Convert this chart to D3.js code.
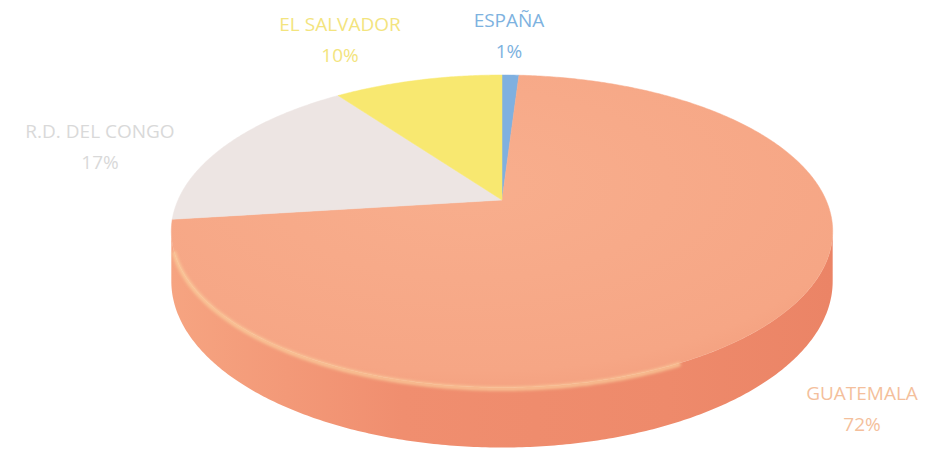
<!DOCTYPE html>
<html>
<head>
<meta charset="utf-8">
<script src="https://cdn.jsdelivr.net/npm/d3@7"></script>
<style>
  body { margin: 0; background: #fff; }
</style>
</head>
<body>
<script>
// data
const countries = ["ESPAÑA", "GUATEMALA", "R.D. DEL CONGO", "EL SALVADOR"];
const shares = [1, 72, 17, 10];

const width = 938;
const height = 457;

// perspective ellipse for the top face
const cx = 502, cy = 200;
const a = 324, b = 150, p = 0.2;
const depth = 48;

const topColor = d3.scaleOrdinal()
    .domain(countries)
    .range(["#7fb0e0", "#f6a988", "#ede5e3", "#f8e870"]);
const sideColor = d3.scaleOrdinal()
    .domain(countries)
    .range(["#6a9bd0", "#ee8a6c", "#ddd3d0", "#e8d55a"]);
const labelColor = d3.scaleOrdinal()
    .domain(countries)
    .range(["#7db2e0", "#f4bf9c", "#d9d9d9", "#f3e47e"]);

// label anchor positions (baseline of the first line)
const labelPos = {
    "ESPAÑA": [509, 27],
    "GUATEMALA": [862, 400],
    "R.D. DEL CONGO": [100, 138],
    "EL SALVADOR": [340, 31]
};

function proj(theta, drop) {
    const u = Math.sin(theta), v = Math.cos(theta);
    const w = 1 + p * v;
    return [cx + a * u / w, cy - b * v / w + (drop || 0) / w];
}

function arcPoints(s, e, drop) {
    const n = Math.max(2, Math.ceil((e - s) / 0.01));
    return d3.range(n + 1).map(i => proj(s + (e - s) * i / n, drop));
}

const pie = d3.pie().sort(null).value(d => d.share);
const arcs = pie(countries.map((c, i) => ({ country: c, share: shares[i] })));

const svg = d3.select("body").append("svg")
    .attr("width", width)
    .attr("height", height)
    .attr("viewBox", [0, 0, width, height])
    .style("font-family", "'Open Sans', sans-serif");

const defs = svg.append("defs");
const sideGrad = defs.append("linearGradient")
    .attr("id", "sideGrad")
    .attr("x1", "0").attr("x2", "1").attr("y1", "0").attr("y2", "0");
sideGrad.append("stop").attr("offset", "0").attr("stop-color", "#f6a481");
sideGrad.append("stop").attr("offset", "0.35").attr("stop-color", "#f08e6f");
sideGrad.append("stop").attr("offset", "0.75").attr("stop-color", "#ee8a6b");
sideGrad.append("stop").attr("offset", "1").attr("stop-color", "#eb8466");

const topGrad = defs.append("radialGradient")
    .attr("id", "topGrad")
    .attr("cx", "0.45").attr("cy", "0.35").attr("r", "0.75");
topGrad.append("stop").attr("offset", "0").attr("stop-color", "#f8ae8d");
topGrad.append("stop").attr("offset", "0.8").attr("stop-color", "#f6a685");
topGrad.append("stop").attr("offset", "1").attr("stop-color", "#f29c7b");

const blur = defs.append("filter").attr("id", "soft");
blur.append("feGaussianBlur").attr("stdDeviation", 1.5);

const line = d3.line();

// front side wall, only the part facing the viewer
const thL = Math.acos(-p), thR = 2 * Math.PI - Math.acos(-p);
arcs.forEach(d => {
    const s = Math.max(d.startAngle, thL), e = Math.min(d.endAngle, thR);
    if (e <= s) return;
    const pts = arcPoints(s, e, 0).concat(arcPoints(s, e, depth).reverse());
    svg.append("path")
        .attr("d", line(pts) + "Z")
        .attr("fill", d.data.country === "GUATEMALA" ? "url(#sideGrad)" : sideColor(d.data.country));
});

// top face slices
svg.append("g")
    .selectAll("path")
    .data(arcs)
    .join("path")
    .attr("d", d => line([[cx, cy]].concat(arcPoints(d.startAngle, d.endAngle, 0))) + "Z")
    .attr("fill", d => d.data.country === "GUATEMALA" ? "url(#topGrad)" : topColor(d.data.country))
    .attr("stroke", d => d.data.country === "GUATEMALA" ? "url(#topGrad)" : topColor(d.data.country))
    .attr("stroke-width", 0.5);

// light rim along the front edge of the top face
svg.append("path")
    .attr("d", line(arcPoints(thL + 0.9, thR - 0.12, 1)))
    .attr("fill", "none")
    .attr("stroke", "#fbd3a0")
    .attr("stroke-width", 4)
    .attr("stroke-opacity", 0.75)
    .attr("filter", "url(#soft)");

// labels
const labels = svg.append("g")
    .selectAll("text")
    .data(arcs)
    .join("text")
    .attr("x", d => labelPos[d.data.country][0])
    .attr("y", d => labelPos[d.data.country][1])
    .attr("text-anchor", "middle")
    .attr("font-size", 19)
    .attr("fill", d => labelColor(d.data.country));

labels.append("tspan")
    .text(d => d.data.country);
labels.append("tspan")
    .attr("x", d => labelPos[d.data.country][0])
    .attr("dy", 31)
    .text(d => d.data.share + "%");
</script>
</body>
</html>
